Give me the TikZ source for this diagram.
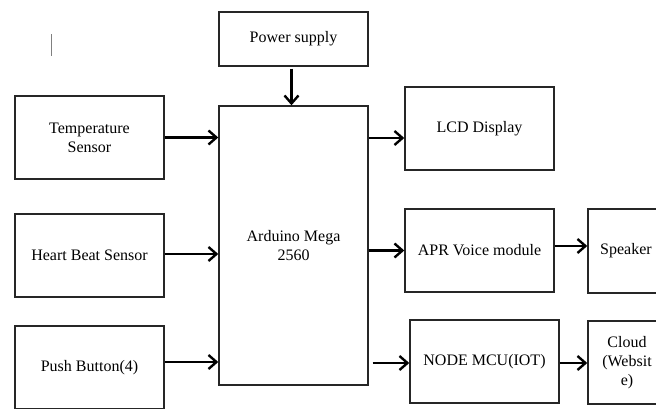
\documentclass[tikz,border=0pt]{standalone}
\usepackage{fontspec}
\setmainfont{Liberation Serif}
\usetikzlibrary{arrows.meta,calc}
\begin{document}
\begin{tikzpicture}[x=1pt,y=-1pt,
  blk/.style={draw=black!85,line width=1.4pt,minimum width=149pt,minimum height=83pt,inner sep=0pt,align=center,
    font=\fontsize{16}{19}\selectfont},
  conn/.style={line width=2.8pt,-{Straight Barb[length=8pt,width=14pt,line width=2.4pt]}}]
\useasboundingbox (0,0) rectangle (656,408);
\clip (0,0) rectangle (656,408);
\fill[white] (0,0) rectangle (656,408);
% boxes
\node[blk,minimum height=54pt] (power) at (293.5,39) {Power supply};
\node[blk,minimum height=279pt] (ard) at (293.5,245.5) {\fontsize{16}{18}\selectfont Arduino Mega\\2560};
\node[blk] (temp) at (89.5,137.5) {\fontsize{16}{25}\selectfont Temperature\\Sensor};
\node[blk] (heart) at (89.5,255.5) {Heart Beat Sensor};
\node[blk] (push) at (89.5,367.5) {Push Button(4)};
\node[blk] (lcd) at (479.5,128.5) {LCD Display};
\node[blk] (apr) at (479.5,250.5) {APR Voice module};
\node[blk] (node) at (484.5,361.5) {NODE MCU(IOT)};
\node[blk,minimum width=76pt,minimum height=84pt] (spk) at (626,251) {Speaker};
\node[blk,minimum width=78pt,minimum height=83pt] (cloud) at (627,362.5) {\fontsize{16}{22}\selectfont Cloud\\(Websit\\e)};
% cursor mark
\coordinate (c1) at (51,34);
\coordinate (c2) at (51,56);
\draw[gray,line width=0.8pt] (c1) -- (c2);
% connectors
\draw[conn] ([xshift=-2pt,yshift=-2pt]power.south) -- ([xshift=-2pt]ard.north);
\draw[conn] (temp.east) -- (temp.east -| ard.west);
\draw[conn] ([yshift=1.5pt]heart.east) -- ([yshift=1.5pt]heart.east -| ard.west);
\draw[conn] ([yshift=5.5pt]push.east) -- ([yshift=5.5pt]push.east -| ard.west);
\draw[conn] ([yshift=-9.5pt]lcd.west -| ard.east) -- ([yshift=-9.5pt]lcd.west);
\draw[conn] (apr.west -| ard.east) -- (apr.west);
\draw[conn] ([xshift=4pt,yshift=-1.5pt]node.west -| ard.east) -- ([yshift=-1.5pt]node.west);
\draw[conn] ([yshift=4.5pt]apr.east) -- ([yshift=4.5pt]apr.east -| spk.west);
\draw[conn] ([yshift=-1.5pt]node.east) -- ([yshift=-1.5pt]node.east -| cloud.west);
\end{tikzpicture}
\end{document}
